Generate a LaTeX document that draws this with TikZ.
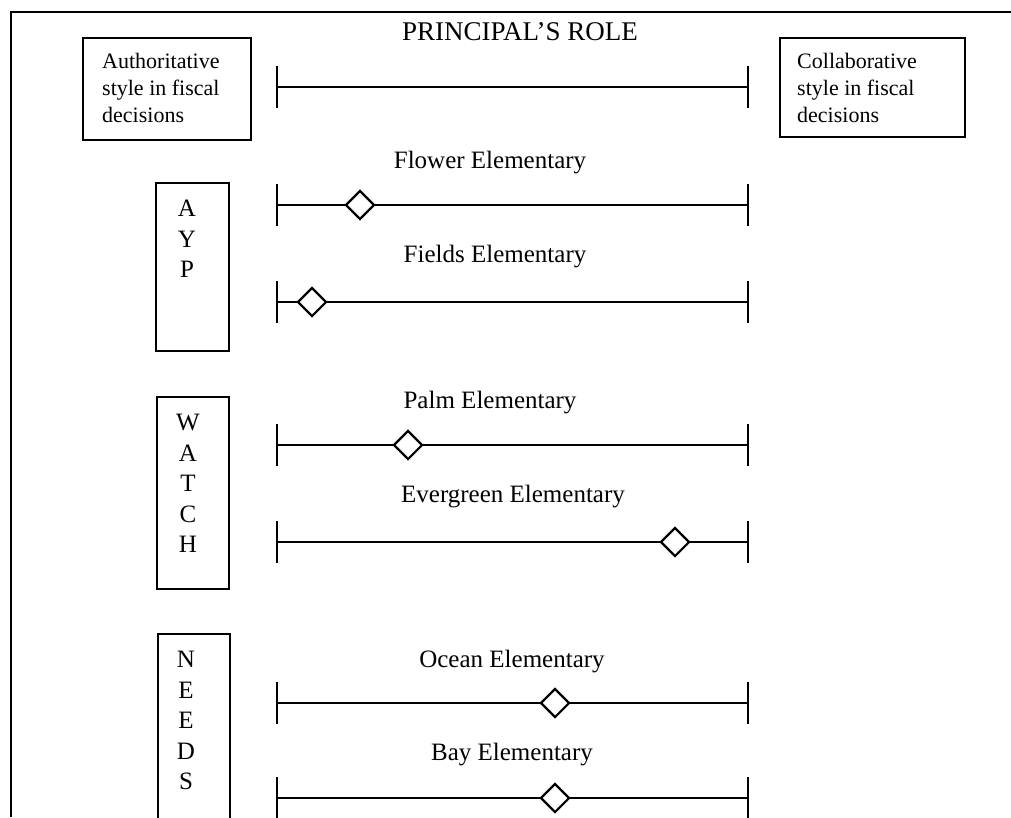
\documentclass[tikz,border=0pt]{standalone}
\usepackage{fontspec}
\setmainfont{Liberation Serif}
\usetikzlibrary{shapes.geometric}
\begin{document}
\begin{tikzpicture}[x=1pt,y=-1pt,
  ink/.style={line width=2.2pt},
  frameline/.style={line width=2pt},
  endbox/.style={draw,line width=2pt,rectangle,inner sep=0pt},
  endtext/.style={anchor=north west,inner sep=0pt,align=left,
    font=\fontsize{22}{27}\selectfont},
  grpbox/.style={draw,line width=2pt,rectangle,inner sep=0pt,anchor=north west},
  grptext/.style={anchor=north,inner sep=0pt,align=center,
    font=\fontsize{25}{30.5}\selectfont},
  scalelabel/.style={anchor=base,inner sep=0pt,font=\fontsize{25}{30}\selectfont},
  ratingmark/.style={diamond,draw,fill=white,line width=2.2pt,inner sep=0pt,
    minimum width=29pt,minimum height=29pt},
]
\useasboundingbox (0,0) rectangle (1011,817);

% outer frame (open at the right and at the bottom)
\coordinate (frameTR) at (1011,12);
\coordinate (frameTL) at (11,12);
\coordinate (frameBL) at (11,817);
\draw[frameline] (frameTR) -- (frameTL) -- (frameBL);

% title and main scale
\node[anchor=base,inner sep=0pt,font=\fontsize{27}{30}\selectfont] (title) at (520,40) {PRINCIPAL'S ROLE};

\node[endbox,minimum width=168pt,minimum height=102pt,anchor=north west] (authbox) at (82,37) {};
\node[endtext] (authtext) at (102,53) {Authoritative\\style in fiscal\\decisions};
\node[endbox,minimum width=185pt,minimum height=99pt,anchor=north west] (collbox) at (779,37) {};
\node[endtext] (colltext) at (797,53) {Collaborative\\style in fiscal\\decisions};

% one scale: #1 name, #2 line y
\newcommand{\rolescale}[2]{%
  \coordinate (#1L) at (277,#2);
  \coordinate (#1R) at (748,#2);
  \coordinate (#1Lt) at (277,#2-21);
  \coordinate (#1Lb) at (277,#2+21);
  \coordinate (#1Rt) at (748,#2-21);
  \coordinate (#1Rb) at (748,#2+21);
  \draw[ink] (#1L) -- (#1R);
  \draw[ink] (#1Lt) -- (#1Lb);
  \draw[ink] (#1Rt) -- (#1Rb);
}

\rolescale{main}{87}

% AYP group
\node[grpbox,minimum width=73pt,minimum height=168pt] (aypbox) at (155,182) {};
\node[grptext] (ayptext) at (187,200) {A\\Y\\P};

\node[scalelabel] (flowerlbl) at (490,168) {Flower Elementary};
\rolescale{flower}{205}
\node[ratingmark] (flowermark) at (360,205) {};

\node[scalelabel] (fieldslbl) at (495,262) {Fields Elementary};
\rolescale{fields}{302}
\node[ratingmark] (fieldsmark) at (312,302) {};

% WATCH group
\node[grpbox,minimum width=72pt,minimum height=192pt] (watchbox) at (156,396) {};
\node[grptext] (watchtext) at (188,414) {W\\A\\T\\C\\H};

\node[scalelabel] (palmlbl) at (490,408) {Palm Elementary};
\rolescale{palm}{445}
\node[ratingmark] (palmmark) at (408,445) {};

\node[scalelabel] (everlbl) at (513,502) {Evergreen Elementary};
\rolescale{ever}{542}
\node[ratingmark] (evermark) at (675,542) {};

% NEEDS group (runs past the bottom edge)
\node[grpbox,minimum width=72pt,minimum height=200pt] (needsbox) at (157,633) {};
\node[grptext] (needstext) at (186,651) {N\\E\\E\\D\\S};

\node[scalelabel] (oceanlbl) at (512,667) {Ocean Elementary};
\rolescale{ocean}{703}
\node[ratingmark] (oceanmark) at (555,703) {};

\node[scalelabel] (baylbl) at (512,760) {Bay Elementary};
\rolescale{bay}{798}
\node[ratingmark] (baymark) at (555,798) {};
\end{tikzpicture}
\end{document}
